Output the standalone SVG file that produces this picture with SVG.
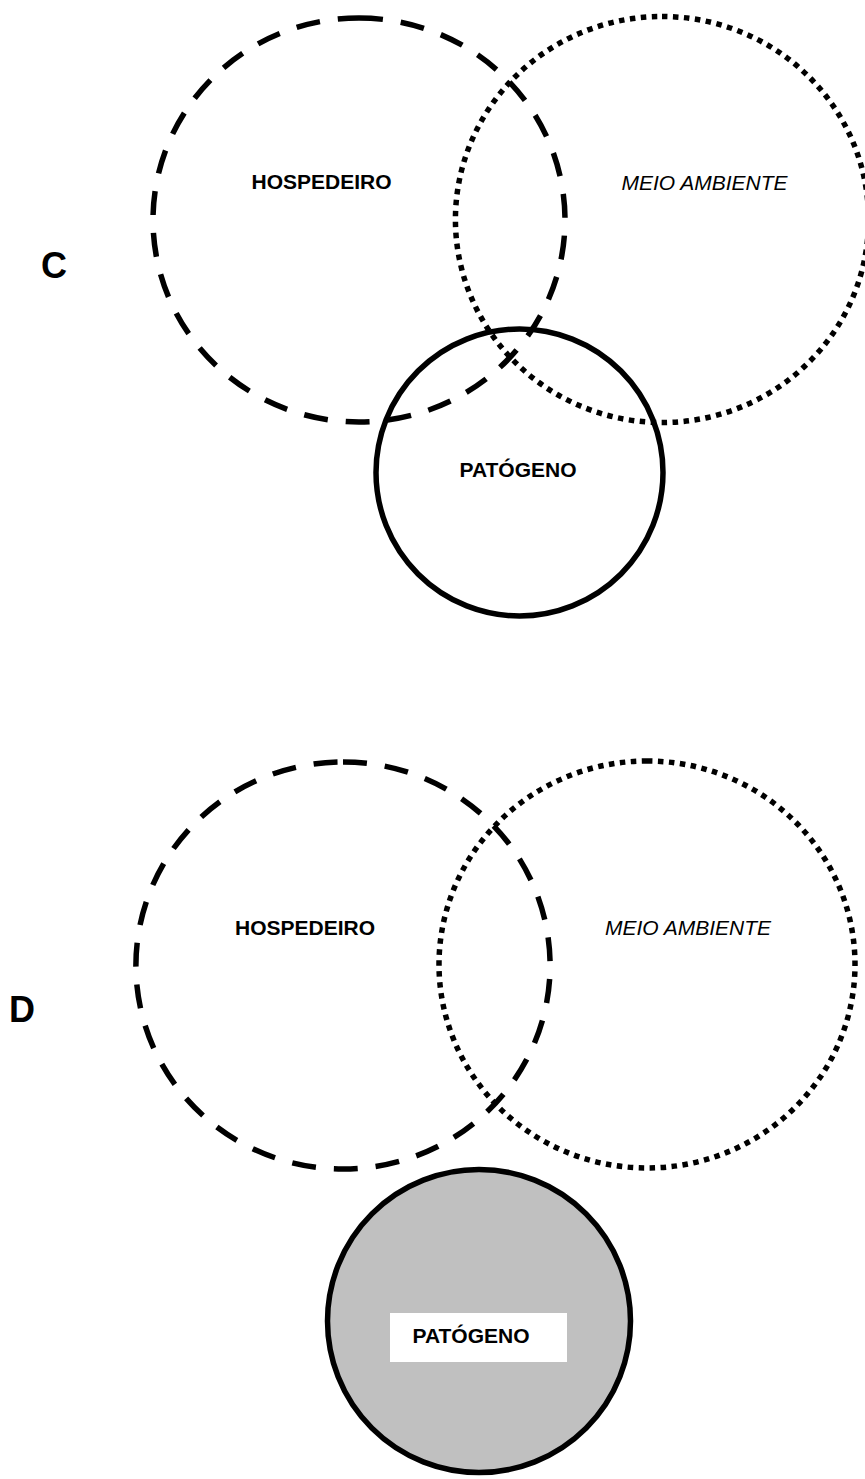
<svg xmlns="http://www.w3.org/2000/svg" width="865" height="1479" viewBox="0 0 865 1479">
<style>
.dash{fill:none;stroke:#000;stroke-width:5.5;stroke-dasharray:24 18}
.dot{fill:none;stroke:#000;stroke-width:5.5;stroke-dasharray:5.5 5.5}
.solid{stroke:#000;stroke-width:5.5}
.lbl{font-family:"Liberation Sans",Arial,sans-serif;font-size:21px;fill:#000}
.b{font-weight:bold}
.i{font-style:italic}
.big{font-family:"Liberation Sans",Arial,sans-serif;font-size:36px;font-weight:bold;fill:#000}
</style>
<rect x="0" y="0" width="865" height="1479" fill="#fff"/>
<g id="panel-C">
<text class="big" x="41" y="278">C</text>
<g id="c-hospedeiro">
<path class="dash" d="M359,18 A206,202 0 1 1 359,422 A206,202 0 1 1 359,18 Z"/>
<text class="lbl b" x="321.5" y="189" text-anchor="middle">HOSPEDEIRO</text>
</g>
<g id="c-meio">
<path class="dot" d="M662,16.5 A206.5,203 0 1 1 662,422.5 A206.5,203 0 1 1 662,16.5 Z"/>
<text class="lbl i" x="704.5" y="190" text-anchor="middle">MEIO AMBIENTE</text>
</g>
<g id="c-patogeno">
<circle class="solid" cx="519.5" cy="472.5" r="143.5" fill="none"/>
<text class="lbl b" x="518" y="477" text-anchor="middle">PATÓGENO</text>
</g>
</g>
<g id="panel-D">
<text class="big" x="9" y="1022">D</text>
<g id="d-patogeno">
<circle class="solid" cx="479" cy="1321" r="151.5" fill="#c0c0c0"/>
<rect x="390" y="1313" width="177" height="49" fill="#fff"/>
<text class="lbl b" x="471" y="1343" text-anchor="middle">PATÓGENO</text>
</g>
<g id="d-hospedeiro">
<path class="dash" d="M343,762 A207,203.5 0 1 1 343,1169 A207,203.5 0 1 1 343,762 Z"/>
<text class="lbl b" x="305" y="935" text-anchor="middle">HOSPEDEIRO</text>
</g>
<g id="d-meio">
<path class="dot" d="M647,761 A208,203.5 0 1 1 647,1168 A208,203.5 0 1 1 647,761 Z"/>
<text class="lbl i" x="688" y="935" text-anchor="middle">MEIO AMBIENTE</text>
</g>
</g>
<g id="connectors"/>
</svg>
